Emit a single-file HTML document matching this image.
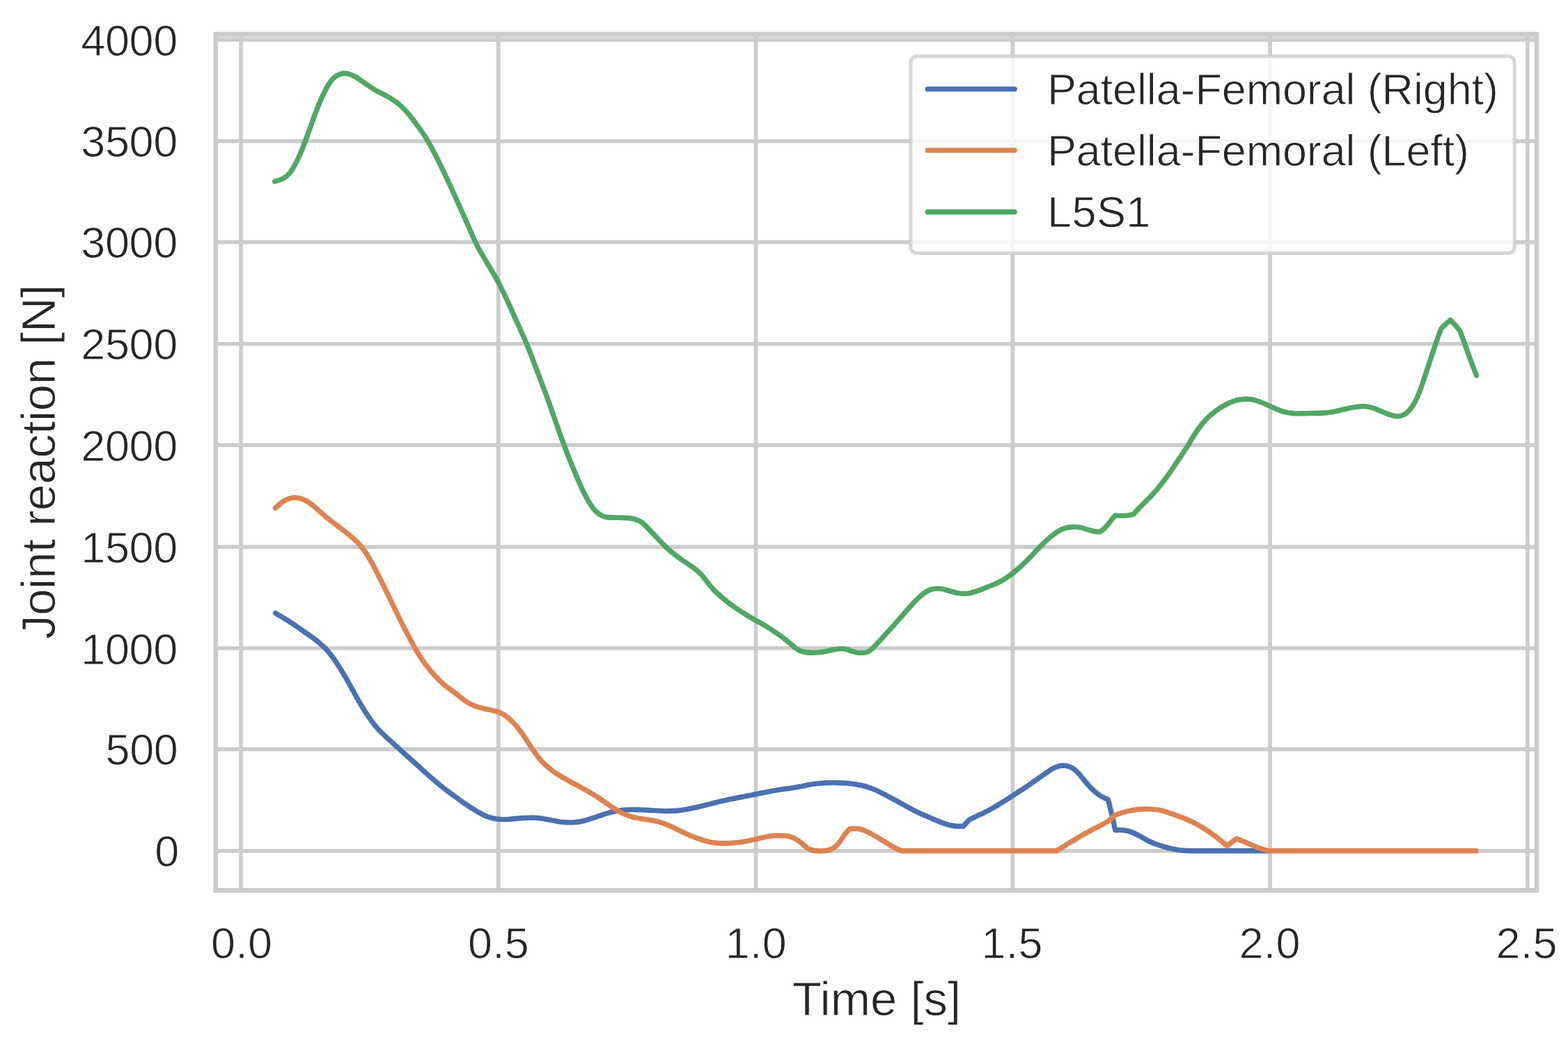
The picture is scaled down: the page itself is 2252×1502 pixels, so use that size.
<!DOCTYPE html>
<html lang="en">
<head>
<meta charset="utf-8">
<title>Joint reaction vs time</title>
<style>
html,body{margin:0;padding:0;background:#fff;overflow:hidden}
svg{display:block}
text{font-family:'Liberation Sans', Arial, Helvetica, sans-serif;fill:#262626;stroke:#ffffff;stroke-width:0.9px;stroke-linejoin:round}
.tick{font-size:63px}
.lab{font-size:69px}
.leg{font-size:63px}
.grid line{stroke:#cccccc;stroke-width:5.6}
.curve{fill:none;stroke-width:7.4;stroke-linecap:round;stroke-linejoin:round}
</style>
</head>
<body>
<svg width="2252" height="1502" viewBox="0 0 2252 1502" role="img" aria-label="Joint reaction force over time">
<defs><filter id="soft" filterUnits="userSpaceOnUse" x="0" y="0" width="2252" height="1502" color-interpolation-filters="sRGB"><feGaussianBlur stdDeviation="0.6"/></filter></defs>
<rect x="0" y="0" width="2252" height="1502" fill="#ffffff"/>
<g filter="url(#soft)">
<rect x="-20" y="-20" width="2292" height="1542" fill="#ffffff"/>
<rect x="309.8" y="51.5" width="1897.2" height="5" fill="#dedede"/>
<g class="grid">
<line x1="346.0" y1="49.2" x2="346.0" y2="1278.6"/>
<line x1="715.8" y1="49.2" x2="715.8" y2="1278.6"/>
<line x1="1085.6" y1="49.2" x2="1085.6" y2="1278.6"/>
<line x1="1454.4" y1="49.2" x2="1454.4" y2="1278.6"/>
<line x1="1824.1" y1="49.2" x2="1824.1" y2="1278.6"/>
<line x1="2193.9" y1="49.2" x2="2193.9" y2="1278.6"/>
<line x1="309.8" y1="1221.9" x2="2207.0" y2="1221.9"/>
<line x1="309.8" y1="1075.9" x2="2207.0" y2="1075.9"/>
<line x1="309.8" y1="930.8" x2="2207.0" y2="930.8"/>
<line x1="309.8" y1="785.4" x2="2207.0" y2="785.4"/>
<line x1="309.8" y1="639.1" x2="2207.0" y2="639.1"/>
<line x1="309.8" y1="493.8" x2="2207.0" y2="493.8"/>
<line x1="309.8" y1="347.8" x2="2207.0" y2="347.8"/>
<line x1="309.8" y1="202.8" x2="2207.0" y2="202.8"/>
<line x1="309.8" y1="57.3" x2="2207.0" y2="57.3"/>
</g>
<g>
<path class="curve" stroke="#4a71b1" d="M395.6 880.5C397.0 881.3 401.3 883.8 404.0 885.4C406.7 887.0 409.3 888.6 412.0 890.3C414.7 891.9 417.3 893.7 420.0 895.4C422.7 897.2 425.3 899.0 428.0 900.8C430.7 902.7 433.4 904.5 436.0 906.4C438.6 908.3 441.6 910.3 443.9 912.0C446.2 913.7 448.0 914.9 450.0 916.4C452.0 917.8 454.0 919.3 455.9 920.9C457.8 922.5 459.8 924.2 461.5 925.7C463.2 927.2 464.7 928.6 466.0 929.9C467.3 931.1 467.9 931.5 469.5 933.4C471.1 935.3 473.8 938.4 475.9 941.2C478.0 944.0 480.3 947.2 482.3 950.1C484.3 953.1 486.4 956.5 487.9 958.8C489.4 961.1 489.6 961.4 491.2 964.1C492.8 966.7 495.6 971.2 497.6 974.8C499.6 978.3 501.4 981.7 503.4 985.3C505.3 988.8 507.4 992.4 509.3 995.9C511.2 999.5 513.1 1002.9 515.1 1006.4C517.1 1009.9 519.3 1013.5 521.5 1017.1C523.7 1020.6 526.1 1024.3 528.5 1027.8C530.9 1031.4 533.2 1034.9 535.9 1038.3C538.5 1041.8 541.9 1045.8 544.4 1048.5C546.9 1051.2 547.9 1052.0 550.7 1054.6C553.5 1057.3 557.8 1061.1 561.3 1064.4C564.8 1067.6 568.5 1070.9 572.0 1074.1C575.5 1077.3 579.1 1080.5 582.6 1083.7C586.1 1086.9 589.8 1090.1 593.3 1093.3C596.8 1096.5 600.3 1099.7 603.9 1102.9C607.5 1106.1 611.0 1109.3 614.6 1112.5C618.2 1115.7 621.8 1118.9 625.3 1121.9C628.8 1124.9 632.3 1127.8 635.9 1130.6C639.5 1133.4 643.0 1136.1 646.6 1138.8C650.2 1141.5 653.7 1144.1 657.2 1146.6C660.8 1149.2 664.4 1151.7 667.9 1154.1C671.4 1156.5 675.0 1158.9 678.5 1161.1C682.0 1163.3 685.6 1165.5 689.2 1167.4C692.8 1169.3 696.4 1171.2 699.9 1172.6C703.4 1173.9 707.0 1174.9 710.5 1175.6C714.0 1176.3 717.7 1176.5 721.2 1176.6C724.8 1176.7 728.2 1176.5 731.8 1176.3C735.3 1176.1 739.0 1175.6 742.5 1175.3C746.0 1175.0 749.6 1174.7 753.1 1174.5C756.6 1174.3 760.2 1174.1 763.8 1174.1C767.4 1174.2 771.6 1174.5 774.5 1174.8C777.4 1175.0 778.4 1175.3 781.3 1175.8C784.2 1176.3 788.5 1177.2 792.0 1177.9C795.5 1178.5 799.1 1179.3 802.6 1179.8C806.1 1180.3 809.8 1180.7 813.3 1180.9C816.8 1181.0 820.3 1181.1 823.9 1180.9C827.5 1180.7 831.0 1180.2 834.6 1179.5C838.2 1178.8 841.8 1177.8 845.3 1176.7C848.8 1175.6 852.3 1174.4 855.9 1173.2C859.5 1172.0 863.0 1170.7 866.6 1169.6C870.2 1168.4 873.7 1167.3 877.2 1166.4C880.8 1165.5 884.4 1164.7 887.9 1164.1C891.4 1163.6 895.0 1163.2 898.5 1162.9C902.0 1162.7 905.6 1162.6 909.2 1162.6C912.8 1162.6 916.5 1162.8 920.0 1162.9C923.5 1163.0 926.7 1163.2 930.0 1163.3C933.3 1163.5 936.7 1163.7 940.0 1163.9C943.3 1164.1 946.7 1164.3 950.0 1164.4C953.3 1164.6 956.7 1164.6 960.0 1164.6C963.3 1164.6 966.7 1164.4 970.0 1164.2C973.3 1164.0 976.7 1163.6 980.0 1163.2C983.3 1162.7 986.7 1162.1 990.0 1161.4C993.3 1160.8 996.7 1160.0 1000.0 1159.3C1003.3 1158.5 1006.7 1157.7 1010.0 1156.9C1013.3 1156.1 1016.7 1155.3 1020.0 1154.5C1023.3 1153.6 1026.7 1152.8 1030.0 1151.9C1033.3 1151.1 1036.7 1150.3 1040.0 1149.5C1043.3 1148.8 1046.7 1148.0 1050.0 1147.4C1053.3 1146.7 1056.7 1146.1 1060.0 1145.5C1063.3 1144.8 1066.7 1144.2 1070.0 1143.5C1073.3 1142.8 1076.7 1142.2 1080.0 1141.5C1083.3 1140.8 1086.7 1140.2 1090.0 1139.5C1093.3 1138.8 1096.7 1138.2 1100.0 1137.5C1103.3 1136.8 1106.7 1136.2 1110.0 1135.6C1113.3 1135.0 1116.7 1134.4 1120.0 1133.9C1123.3 1133.4 1126.7 1133.0 1130.0 1132.5C1133.3 1132.0 1136.7 1131.6 1140.0 1131.1C1143.3 1130.5 1146.7 1130.0 1150.0 1129.4C1153.3 1128.7 1156.7 1127.9 1160.0 1127.2C1163.3 1126.6 1166.7 1126.0 1170.0 1125.6C1173.3 1125.1 1176.7 1124.8 1180.0 1124.6C1183.3 1124.3 1186.7 1124.1 1190.0 1124.0C1193.3 1123.9 1196.7 1123.9 1200.0 1124.0C1203.3 1124.0 1206.7 1124.2 1210.0 1124.3C1213.3 1124.5 1216.7 1124.7 1220.0 1125.0C1223.3 1125.4 1226.7 1125.8 1230.0 1126.4C1233.3 1127.0 1236.7 1127.6 1240.0 1128.4C1243.3 1129.3 1246.7 1130.3 1250.0 1131.4C1253.3 1132.6 1256.7 1134.0 1260.0 1135.5C1263.3 1137.0 1266.7 1138.8 1270.0 1140.5C1273.3 1142.3 1276.7 1144.1 1280.0 1145.9C1283.3 1147.7 1286.7 1149.5 1290.0 1151.3C1293.3 1153.2 1296.7 1155.0 1300.0 1156.9C1303.3 1158.7 1306.7 1160.5 1310.0 1162.3C1313.3 1164.0 1316.7 1165.8 1320.0 1167.3C1323.3 1168.9 1326.7 1170.1 1330.0 1171.6C1333.3 1173.0 1336.7 1174.5 1340.0 1176.0C1343.3 1177.4 1346.7 1179.0 1350.0 1180.3C1353.3 1181.6 1356.6 1182.8 1360.0 1183.7C1363.4 1184.7 1366.6 1185.5 1370.5 1186.0C1374.4 1186.5 1381.2 1186.5 1383.3 1186.6L1392.5 1176.8C1394.2 1176.0 1398.9 1173.7 1402.5 1172.1C1406.1 1170.4 1410.4 1168.5 1414.0 1166.7C1417.6 1165.0 1420.7 1163.3 1424.0 1161.4C1427.3 1159.5 1430.7 1157.5 1434.0 1155.5C1437.3 1153.4 1440.7 1151.4 1444.0 1149.3C1447.3 1147.2 1450.7 1145.0 1454.0 1142.9C1457.3 1140.7 1460.7 1138.5 1464.0 1136.3C1467.3 1134.2 1470.7 1132.0 1474.0 1129.8C1477.3 1127.6 1480.7 1125.2 1484.0 1122.9C1487.3 1120.6 1490.7 1118.2 1494.0 1115.9C1497.3 1113.6 1501.0 1110.9 1504.0 1108.9C1507.0 1106.9 1509.3 1105.1 1512.0 1103.6C1514.7 1102.2 1517.3 1101.0 1520.0 1100.3C1522.7 1099.5 1525.3 1099.2 1528.0 1099.3C1530.7 1099.4 1533.3 1099.9 1536.0 1100.9C1538.7 1102.0 1541.3 1103.4 1544.0 1105.6C1546.7 1107.8 1549.3 1111.0 1552.0 1114.0C1554.7 1117.1 1557.3 1120.7 1560.0 1123.8C1562.7 1126.8 1565.3 1129.9 1568.0 1132.6C1570.7 1135.3 1573.8 1137.9 1576.0 1139.7C1578.2 1141.5 1579.3 1142.1 1581.3 1143.3C1583.2 1144.4 1586.0 1145.7 1587.7 1146.5C1589.4 1147.4 1590.9 1147.9 1591.5 1148.2C1591.8 1149.6 1592.9 1153.9 1593.6 1156.7C1594.3 1159.6 1594.9 1162.0 1595.7 1165.2C1596.5 1168.5 1597.6 1172.8 1598.4 1176.3C1599.2 1179.8 1599.9 1183.8 1600.5 1186.4C1601.1 1189.0 1601.6 1191.1 1601.8 1192.0C1603.4 1192.0 1608.2 1191.8 1611.2 1192.0C1614.2 1192.2 1616.6 1192.3 1619.7 1193.2C1622.8 1194.0 1626.6 1195.5 1630.0 1197.0C1633.4 1198.5 1636.7 1200.5 1640.0 1202.3C1643.3 1204.1 1646.7 1206.3 1650.0 1207.9C1653.3 1209.5 1656.7 1210.8 1660.0 1212.1C1663.3 1213.3 1666.7 1214.3 1670.0 1215.3C1673.3 1216.3 1676.7 1217.3 1680.0 1218.1C1683.3 1218.9 1686.7 1219.5 1690.0 1220.1C1693.3 1220.6 1696.7 1221.0 1700.0 1221.3C1703.3 1221.6 1708.3 1221.7 1710.0 1221.8L1824.0 1221.8"/>
<path class="curve" stroke="#dd8351" d="M395.5 729.4C396.8 728.2 400.6 724.4 403.4 722.4C406.1 720.3 409.1 718.3 412.0 717.1C414.9 715.8 417.7 715.2 420.5 714.8C423.3 714.5 426.1 714.6 429.0 715.1C431.9 715.6 434.8 716.6 437.6 718.0C440.5 719.3 443.3 721.2 446.1 723.3C448.9 725.3 451.8 727.8 454.6 730.3C457.4 732.7 460.2 735.3 463.1 737.8C466.0 740.2 468.9 742.8 471.7 745.1C474.5 747.4 477.4 749.5 480.2 751.7C483.0 753.9 485.9 756.0 488.7 758.1C491.5 760.3 494.3 762.4 497.2 764.6C500.1 766.9 503.1 769.3 505.8 771.7C508.5 774.0 510.9 776.2 513.2 778.6C515.5 780.9 517.5 783.0 519.6 785.7C521.7 788.4 523.9 791.4 526.0 794.6C528.1 797.9 530.3 801.5 532.4 805.2C534.5 808.9 536.7 812.9 538.8 816.9C540.9 821.0 543.2 825.7 545.2 829.6C547.2 833.5 548.8 836.9 550.5 840.3C552.2 843.7 553.0 845.4 555.3 850.0C557.5 854.6 561.2 862.2 564.0 868.0C566.8 873.7 569.4 879.2 572.0 884.5C574.6 889.8 576.9 894.6 579.6 899.8C582.3 905.1 585.4 910.8 588.1 916.0C590.9 921.1 593.6 926.3 596.1 930.7C598.6 935.1 600.7 938.6 603.1 942.4C605.5 946.1 607.9 949.5 610.5 953.1C613.1 956.7 616.0 960.2 619.0 963.8C622.0 967.3 625.2 971.0 628.6 974.4C632.0 977.8 635.6 981.4 639.3 984.5C643.0 987.5 647.0 990.0 650.7 992.8C654.4 995.6 657.8 998.5 661.3 1001.2C664.8 1003.8 668.5 1006.7 672.0 1008.8C675.5 1010.9 679.1 1012.5 682.6 1013.9C686.1 1015.2 689.8 1016.2 693.3 1017.1C696.8 1018.1 700.3 1018.6 703.9 1019.4C707.5 1020.2 711.4 1020.9 714.6 1021.9C717.8 1023.0 720.2 1024.0 723.1 1025.8C726.0 1027.5 728.9 1029.9 731.7 1032.5C734.6 1035.0 737.4 1037.8 740.2 1041.0C743.0 1044.2 745.9 1047.8 748.7 1051.7C751.5 1055.6 754.5 1060.3 757.2 1064.3C759.9 1068.3 762.2 1072.1 764.7 1075.8C767.2 1079.4 769.5 1082.9 772.2 1086.2C774.9 1089.6 777.9 1093.0 780.7 1095.9C783.5 1098.7 786.4 1101.1 789.2 1103.4C792.0 1105.8 794.9 1107.9 797.7 1109.8C800.6 1111.8 803.1 1113.3 806.3 1115.2C809.5 1117.1 813.3 1119.2 816.9 1121.2C820.5 1123.2 824.0 1125.1 827.6 1127.1C831.2 1129.0 834.7 1130.9 838.2 1132.9C841.8 1134.9 845.1 1136.6 848.9 1138.9C852.7 1141.2 857.4 1144.1 861.2 1146.6C865.0 1149.1 868.3 1151.5 871.9 1153.9C875.5 1156.4 879.0 1159.0 882.6 1161.2C886.2 1163.5 889.7 1165.7 893.2 1167.5C896.8 1169.2 900.4 1170.7 903.9 1171.8C907.4 1173.0 911.0 1173.8 914.5 1174.5C918.0 1175.3 921.7 1175.7 925.2 1176.3C928.8 1176.9 932.2 1177.3 935.8 1178.0C939.3 1178.7 942.9 1179.3 946.5 1180.3C950.1 1181.3 953.7 1182.6 957.2 1184.0C960.8 1185.4 964.2 1187.0 967.8 1188.7C971.3 1190.3 975.0 1192.2 978.5 1193.9C982.0 1195.6 985.4 1197.2 989.1 1198.8C992.8 1200.4 997.0 1202.0 1000.7 1203.4C1004.4 1204.7 1007.8 1206.0 1011.3 1207.0C1014.8 1208.1 1018.5 1209.0 1022.0 1209.7C1025.5 1210.3 1029.0 1210.6 1032.6 1210.9C1036.1 1211.1 1039.8 1211.1 1043.3 1211.0C1046.8 1211.0 1050.4 1210.7 1053.9 1210.3C1057.5 1210.0 1061.0 1209.6 1064.6 1209.1C1068.2 1208.6 1071.8 1207.9 1075.3 1207.2C1078.8 1206.5 1082.4 1205.8 1085.9 1205.0C1089.5 1204.2 1093.0 1203.2 1096.6 1202.5C1100.1 1201.7 1103.7 1201.0 1107.2 1200.5C1110.8 1200.0 1114.4 1199.7 1117.9 1199.6C1121.5 1199.6 1125.0 1199.7 1128.5 1200.2C1132.0 1200.8 1136.2 1201.9 1139.2 1203.0C1142.2 1204.2 1144.4 1205.6 1146.7 1207.2C1149.0 1208.8 1151.0 1210.8 1153.1 1212.5C1155.2 1214.3 1157.4 1216.2 1159.5 1217.6C1161.6 1218.9 1163.6 1219.9 1165.9 1220.6C1168.2 1221.3 1170.7 1221.6 1173.3 1221.8C1175.9 1222.0 1178.9 1222.0 1181.8 1221.9C1184.7 1221.7 1187.7 1221.4 1190.4 1220.6C1193.1 1219.9 1195.5 1218.9 1197.8 1217.3C1200.1 1215.8 1202.2 1213.5 1204.2 1211.3C1206.2 1209.0 1207.7 1206.5 1209.5 1203.9C1211.3 1201.4 1213.1 1198.3 1214.9 1196.0C1216.7 1193.7 1219.6 1191.0 1220.5 1190.0C1222.4 1190.0 1228.7 1189.7 1232.0 1190.0C1235.3 1190.4 1237.3 1190.9 1240.5 1192.1C1243.7 1193.3 1247.7 1195.4 1251.2 1197.2C1254.8 1199.1 1258.2 1201.2 1261.8 1203.4C1265.3 1205.5 1269.0 1207.7 1272.5 1209.9C1276.0 1212.0 1280.1 1214.5 1283.1 1216.2C1286.1 1217.9 1288.5 1219.2 1290.6 1220.2C1292.7 1221.1 1294.7 1221.5 1295.5 1221.8L1517.2 1221.8C1518.7 1220.9 1522.7 1218.5 1525.9 1216.5C1529.1 1214.6 1533.0 1212.0 1536.6 1209.9C1540.1 1207.7 1543.7 1205.6 1547.2 1203.5C1550.8 1201.4 1554.3 1199.4 1557.9 1197.3C1561.5 1195.3 1565.0 1193.4 1568.6 1191.5C1572.1 1189.6 1575.7 1187.9 1579.2 1186.0C1582.8 1184.1 1587.1 1182.0 1589.9 1180.2C1592.8 1178.4 1594.4 1176.9 1596.3 1175.3C1598.2 1173.7 1600.4 1171.4 1601.2 1170.6C1602.9 1170.0 1607.8 1168.3 1611.2 1167.2C1614.6 1166.2 1618.2 1165.2 1621.8 1164.4C1625.3 1163.7 1629.0 1163.0 1632.5 1162.5C1636.0 1162.1 1639.5 1161.8 1643.1 1161.7C1646.6 1161.6 1650.2 1161.6 1653.8 1161.9C1657.4 1162.1 1661.0 1162.6 1664.5 1163.2C1668.0 1163.8 1672.0 1164.9 1674.5 1165.6C1677.0 1166.3 1677.2 1166.6 1679.7 1167.5C1682.2 1168.3 1686.4 1169.7 1689.7 1170.9C1693.0 1172.1 1696.4 1173.3 1699.7 1174.6C1703.0 1176.0 1706.4 1177.4 1709.7 1179.0C1713.0 1180.6 1716.4 1182.2 1719.7 1184.0C1723.0 1185.9 1726.3 1187.9 1729.7 1190.0C1733.1 1192.1 1736.5 1194.3 1740.0 1196.8C1743.5 1199.2 1747.7 1202.5 1750.6 1204.8C1753.5 1207.1 1755.3 1208.8 1757.3 1210.5C1759.3 1212.1 1761.7 1213.9 1762.6 1214.6C1763.7 1213.7 1767.1 1211.1 1769.3 1209.3C1771.5 1207.6 1774.8 1205.1 1775.9 1204.3C1777.5 1204.9 1782.0 1206.6 1785.3 1208.0C1788.6 1209.4 1792.4 1211.1 1795.9 1212.6C1799.5 1214.1 1803.5 1215.9 1806.6 1217.1C1809.7 1218.3 1811.9 1219.0 1814.6 1219.8C1817.3 1220.6 1821.3 1221.5 1822.6 1221.8L2120.0 1221.8"/>
<path class="curve" stroke="#50a764" d="M394.7 260.5C396.7 259.8 403.0 258.5 406.6 256.4C410.2 254.3 413.1 252.3 416.5 248.0C419.9 243.7 423.9 236.1 426.7 230.6C429.5 225.2 431.6 220.1 433.5 215.5C435.4 210.8 436.4 207.9 438.4 202.7C440.4 197.4 443.1 190.0 445.3 183.8C447.6 177.6 449.7 171.4 451.9 165.5C454.1 159.6 456.4 153.6 458.6 148.3C460.8 143.0 462.9 138.5 465.3 133.6C467.7 128.8 470.6 123.3 473.2 119.4C475.8 115.5 478.5 112.4 481.2 110.2C483.9 108.0 487.0 107.0 489.2 106.2C491.4 105.4 492.4 105.3 494.6 105.3C496.8 105.4 500.0 105.9 502.6 106.7C505.2 107.6 507.4 108.5 510.5 110.3C513.6 112.1 517.6 115.0 521.2 117.4C524.8 119.9 528.4 122.7 531.9 125.0C535.4 127.3 539.0 129.2 542.5 131.2C546.0 133.1 549.7 134.8 553.2 136.7C556.8 138.7 560.2 140.5 563.8 142.9C567.3 145.3 571.0 147.9 574.5 151.0C578.0 154.2 581.6 157.8 585.1 161.9C588.6 165.9 592.2 170.5 595.8 175.2C599.4 179.9 603.3 185.3 606.5 190.0C609.7 194.7 611.9 198.0 615.0 203.3C618.1 208.6 621.6 215.3 625.0 221.9C628.4 228.5 632.0 235.7 635.4 242.8C638.8 249.8 642.2 257.0 645.5 264.1C648.8 271.2 651.9 278.2 655.1 285.3C658.3 292.4 661.5 299.5 664.7 306.7C667.9 313.8 671.3 321.7 674.3 328.4C677.3 335.1 679.8 341.4 682.5 347.0C685.2 352.5 687.4 356.6 690.3 361.8C693.2 366.9 696.7 372.6 699.9 378.0C703.1 383.4 706.9 389.6 709.5 394.1C712.1 398.5 713.5 401.2 715.4 404.8C717.3 408.3 718.9 411.7 720.7 415.3C722.5 418.8 724.3 422.5 726.0 426.1C727.7 429.6 729.2 433.1 730.8 436.6C732.4 440.1 734.0 443.7 735.6 447.2C737.2 450.8 738.8 454.3 740.4 457.9C742.0 461.4 743.6 465.0 745.2 468.5C746.8 472.1 748.1 475.0 750.0 479.2C751.9 483.5 754.5 489.3 756.5 494.0C758.5 498.8 759.8 501.9 762.0 507.7C764.2 513.5 767.3 521.9 770.0 528.9C772.7 536.0 775.4 543.1 778.0 550.0C780.6 556.9 783.2 563.6 785.6 570.2C788.0 576.9 790.3 583.4 792.6 590.0C794.9 596.6 796.7 601.6 799.6 609.8C802.5 618.1 807.1 631.0 810.2 639.3C813.3 647.6 815.3 652.9 818.0 659.7C820.7 666.5 823.6 673.3 826.4 680.0C829.2 686.7 832.4 694.2 834.8 699.6C837.2 705.0 838.9 708.3 841.0 712.2C843.1 716.2 845.3 720.0 847.3 723.2C849.3 726.3 851.0 728.8 853.0 731.1C855.0 733.4 857.0 735.4 859.0 737.0C861.0 738.6 863.0 739.8 865.0 740.7C867.0 741.7 868.8 742.2 871.0 742.7C873.2 743.1 874.8 743.2 878.0 743.3C881.2 743.4 886.2 743.4 890.0 743.4C893.8 743.5 898.0 743.5 901.0 743.7C904.0 743.8 905.7 744.1 908.0 744.6C910.3 745.1 912.7 745.6 915.0 746.6C917.3 747.5 919.4 748.3 922.0 750.3C924.6 752.3 927.5 755.4 930.7 758.6C933.9 761.9 937.8 766.1 941.3 769.8C944.8 773.5 949.3 778.2 952.0 781.0C954.7 783.7 955.5 784.6 957.3 786.3C959.1 788.0 959.9 788.9 962.6 791.1C965.3 793.3 969.8 796.9 973.3 799.5C976.8 802.2 980.3 804.6 983.9 807.0C987.5 809.5 991.0 811.7 994.6 814.3C998.2 817.0 1002.6 820.6 1005.3 823.0C1008.0 825.5 1008.8 826.9 1010.6 829.1C1012.4 831.2 1014.1 833.6 1015.9 835.9C1017.7 838.2 1019.4 840.5 1021.2 842.6C1023.0 844.7 1023.9 845.9 1026.6 848.5C1029.3 851.1 1033.7 855.1 1037.2 858.1C1040.8 861.1 1044.4 864.0 1047.9 866.7C1051.5 869.3 1055.0 871.8 1058.5 874.2C1062.0 876.6 1065.6 878.9 1069.2 881.2C1072.8 883.4 1076.3 885.6 1079.9 887.7C1083.5 889.8 1087.0 891.7 1090.6 893.8C1094.2 895.8 1097.7 897.6 1101.3 899.8C1104.9 902.0 1108.5 904.5 1112.0 906.9C1115.5 909.3 1119.0 911.6 1122.6 914.2C1126.1 916.8 1130.1 920.0 1133.3 922.7C1136.5 925.3 1139.3 928.1 1141.8 930.0C1144.3 931.9 1145.7 933.1 1148.2 934.1C1150.7 935.2 1153.5 936.0 1156.7 936.5C1159.9 937.0 1163.9 937.3 1167.4 937.3C1171.0 937.3 1174.5 937.0 1178.0 936.6C1181.5 936.2 1185.5 935.4 1188.7 934.8C1191.9 934.1 1194.0 933.3 1197.2 932.8C1200.4 932.2 1204.7 931.5 1207.9 931.4C1211.1 931.4 1213.7 932.0 1216.4 932.6C1219.1 933.3 1221.4 934.4 1223.9 935.1C1226.4 935.8 1228.6 936.7 1231.3 937.1C1234.0 937.4 1237.5 937.5 1239.9 937.3C1242.4 937.2 1244.2 936.8 1246.0 936.1C1247.8 935.5 1248.9 934.7 1250.5 933.4C1252.1 932.1 1254.0 930.2 1255.8 928.4C1257.6 926.6 1258.5 925.5 1261.2 922.6C1263.9 919.7 1268.2 914.8 1271.8 910.9C1275.3 907.0 1279.0 903.1 1282.5 899.1C1286.0 895.2 1289.5 891.2 1293.1 887.2C1296.6 883.2 1300.2 879.0 1303.8 875.0C1307.4 871.0 1311.6 866.1 1314.5 863.1C1317.4 860.0 1318.8 858.8 1321.3 856.6C1323.8 854.5 1327.1 851.7 1329.8 850.0C1332.5 848.3 1334.6 847.2 1337.3 846.4C1340.0 845.6 1342.8 845.2 1345.8 845.1C1348.8 845.1 1352.4 845.6 1355.4 846.2C1358.4 846.7 1360.7 847.7 1363.9 848.6C1367.1 849.5 1371.4 850.9 1374.6 851.5C1377.8 852.2 1380.2 852.5 1383.1 852.5C1385.9 852.6 1388.7 852.3 1391.7 851.8C1394.7 851.2 1398.2 850.3 1401.2 849.4C1404.2 848.4 1406.9 847.4 1410.0 846.2C1413.1 845.0 1416.7 843.6 1420.0 842.2C1423.3 840.9 1426.7 839.7 1430.0 838.2C1433.3 836.7 1436.7 835.1 1440.0 833.2C1443.3 831.2 1446.7 829.0 1450.0 826.6C1453.3 824.2 1456.7 821.5 1460.0 818.6C1463.3 815.8 1466.7 812.8 1470.0 809.6C1473.3 806.5 1476.7 803.1 1480.0 799.6C1483.3 796.2 1486.7 792.4 1490.0 788.9C1493.3 785.5 1496.7 782.1 1500.0 778.9C1503.3 775.8 1506.7 772.7 1510.0 770.0C1513.3 767.3 1516.7 764.6 1520.0 762.7C1523.3 760.7 1526.7 759.3 1530.0 758.2C1533.3 757.2 1536.7 756.8 1540.0 756.7C1543.3 756.5 1546.7 756.7 1550.0 757.2C1553.3 757.7 1556.7 758.9 1560.0 759.8C1563.3 760.7 1567.7 762.1 1570.0 762.7C1572.3 763.3 1572.4 763.2 1573.9 763.4C1575.5 763.6 1578.4 763.8 1579.3 763.9C1580.2 763.3 1582.6 761.9 1584.6 760.2C1586.5 758.4 1588.9 755.9 1591.0 753.4C1593.1 750.9 1595.6 747.4 1597.4 745.2C1599.2 743.0 1601.0 741.1 1601.7 740.3C1603.3 740.3 1607.8 740.6 1611.2 740.6C1614.6 740.5 1619.1 740.3 1621.9 739.9C1624.8 739.5 1627.2 738.5 1628.3 738.2C1629.2 737.2 1631.1 734.7 1633.6 732.1C1636.1 729.4 1639.8 725.8 1643.2 722.3C1646.6 718.8 1650.4 715.2 1653.9 711.4C1657.5 707.5 1661.0 703.6 1664.5 699.3C1668.0 695.0 1671.7 690.5 1675.2 685.6C1678.8 680.8 1682.2 675.5 1685.8 670.3C1689.3 665.1 1693.1 659.6 1696.5 654.4C1699.9 649.3 1702.8 644.9 1706.1 639.7C1709.3 634.5 1712.7 628.4 1716.0 623.4C1719.3 618.4 1722.7 613.6 1726.0 609.4C1729.3 605.3 1732.7 601.6 1736.0 598.4C1739.3 595.3 1742.7 592.7 1746.0 590.2C1749.3 587.8 1752.7 585.7 1756.0 583.7C1759.3 581.7 1762.7 579.8 1766.0 578.3C1769.3 576.8 1772.7 575.6 1776.0 574.7C1779.3 573.9 1782.7 573.4 1786.0 573.2C1789.3 573.0 1792.7 573.0 1796.0 573.4C1799.3 573.8 1802.7 574.7 1806.0 575.7C1809.3 576.8 1812.0 577.9 1816.0 579.6C1820.0 581.3 1826.0 584.2 1830.0 585.9C1834.0 587.7 1836.7 588.9 1840.0 590.0C1843.3 591.2 1846.7 592.0 1850.0 592.7C1853.3 593.3 1856.7 593.6 1860.0 593.8C1863.3 593.9 1866.7 593.9 1870.0 593.8C1873.3 593.8 1876.7 593.6 1880.0 593.5C1883.3 593.4 1886.7 593.4 1890.0 593.3C1893.3 593.2 1896.7 593.2 1900.0 593.0C1903.3 592.8 1906.7 592.6 1910.0 592.1C1913.3 591.7 1916.7 590.9 1920.0 590.2C1923.3 589.5 1926.7 588.7 1930.0 587.9C1933.3 587.1 1936.7 586.3 1940.0 585.6C1943.3 585.0 1946.7 584.4 1950.0 584.0C1953.3 583.7 1956.7 583.4 1960.0 583.6C1963.3 583.8 1966.7 584.4 1970.0 585.3C1973.3 586.2 1976.7 587.6 1980.0 589.0C1983.3 590.3 1986.7 592.0 1990.0 593.3C1993.3 594.6 1997.0 595.9 2000.0 596.7C2003.0 597.4 2005.3 598.0 2008.0 597.8C2010.7 597.6 2013.3 597.1 2016.0 595.6C2018.7 594.2 2021.3 592.2 2024.0 589.2C2026.7 586.2 2029.3 582.7 2032.0 577.7C2034.7 572.7 2037.3 566.1 2040.0 559.1C2042.7 552.2 2045.3 543.7 2048.0 535.8C2050.7 527.8 2053.7 518.3 2056.0 511.3C2058.3 504.2 2060.3 498.5 2062.0 493.6C2063.7 488.8 2064.7 485.5 2066.0 481.9C2067.3 478.2 2069.3 473.5 2070.0 471.8C2071.1 470.7 2074.1 467.5 2076.3 465.5C2078.5 463.5 2082.0 460.6 2083.1 459.6C2084.2 460.8 2087.7 464.2 2090.0 466.9C2092.3 469.5 2095.8 474.0 2097.0 475.4C2097.8 477.7 2100.3 484.4 2102.0 489.1C2103.7 493.7 2105.4 498.7 2107.2 503.5C2108.9 508.4 2110.3 512.3 2112.5 518.2C2114.7 524.2 2119.2 535.7 2120.6 539.2"/>
</g>
<rect x="309.8" y="49.2" width="1897.2" height="1229.4" fill="none" stroke="#cccccc" stroke-width="6.7"/>
<g>
<rect x="1308.0" y="80.8" width="867.2" height="282.8" rx="9" ry="9" fill="#ffffff" fill-opacity="0.8" stroke="#cccccc" stroke-opacity="0.8" stroke-width="5"/>
<line x1="1332.3" y1="127.9" x2="1457.2" y2="127.9" stroke="#4a71b1" stroke-width="7.4" stroke-linecap="round"/>
<text class="leg" x="1504.0" y="149.6" letter-spacing="-0.15">Patella-Femoral (Right)</text>
<line x1="1332.3" y1="215.9" x2="1457.2" y2="215.9" stroke="#dd8351" stroke-width="7.4" stroke-linecap="round"/>
<text class="leg" x="1504.0" y="238.0" letter-spacing="-0.15">Patella-Femoral (Left)</text>
<line x1="1332.3" y1="304.2" x2="1457.2" y2="304.2" stroke="#50a764" stroke-width="7.4" stroke-linecap="round"/>
<text class="leg" x="1504.0" y="326.4" letter-spacing="0.4">L5S1</text>
</g>
<g class="tick" text-anchor="end">
<text x="256.9" y="1244.3" letter-spacing="-0.4">0</text>
<text x="255.5" y="1098.3" letter-spacing="-0.4">500</text>
<text x="254.9" y="954.2" letter-spacing="-0.4">1000</text>
<text x="254.9" y="807.8" letter-spacing="-0.4">1500</text>
<text x="254.9" y="661.9" letter-spacing="-0.4">2000</text>
<text x="254.9" y="515.6" letter-spacing="-0.4">2500</text>
<text x="254.9" y="370.2" letter-spacing="-0.4">3000</text>
<text x="254.9" y="225.2" letter-spacing="-0.4">3500</text>
<text x="254.9" y="79.7" letter-spacing="-0.4">4000</text>
</g>
<g class="tick" text-anchor="middle">
<text x="347.1" y="1376.1" letter-spacing="0.2">0.0</text>
<text x="716.0" y="1376.1" letter-spacing="0.2">0.5</text>
<text x="1085.8" y="1376.1" letter-spacing="0.2">1.0</text>
<text x="1453.6" y="1376.1" letter-spacing="0.2">1.5</text>
<text x="1823.7" y="1376.1" letter-spacing="0.2">2.0</text>
<text x="2192.7" y="1376.1" letter-spacing="0.2">2.5</text>
</g>
<text class="lab" x="1259.0" y="1457.6" text-anchor="middle" letter-spacing="-0.1">Time [s]</text>
<text class="lab" transform="translate(79.2 663.4) rotate(-90)" text-anchor="middle" letter-spacing="-0.5">Joint reaction [N]</text>
</g>
</svg>
</body>
</html>
